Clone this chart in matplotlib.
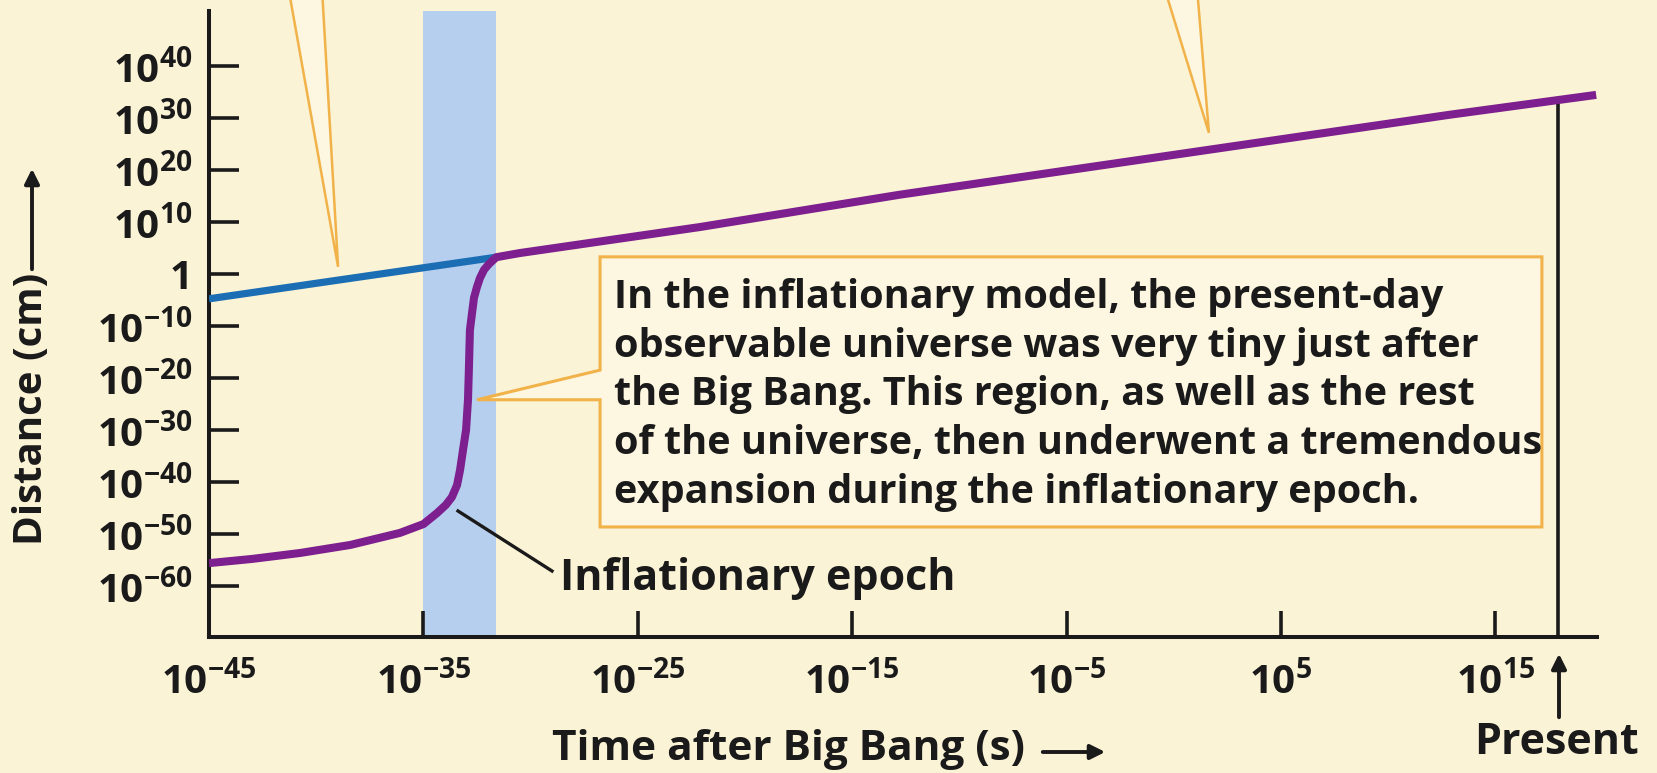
import numpy as np
from matplotlib import pyplot as plt
from matplotlib.patches import Polygon
from matplotlib.ticker import FixedLocator, FuncFormatter, NullLocator

#fonts: bold humanist sans everywhere, also inside the math tick labels
plt.rcParams['font.family'] = ['Open Sans', 'DejaVu Sans']
plt.rcParams['font.weight'] = 'bold'
plt.rcParams['mathtext.fontset'] = 'custom'
plt.rcParams['mathtext.rm'] = 'Open Sans:bold'
plt.rcParams['mathtext.bf'] = 'Open Sans:bold'
plt.rcParams['mathtext.it'] = 'Open Sans:bold'

#========================================
#               Data (log10 values)
#========================================

#standard model (blue), log10 of time [s] and distance [cm]
standard_log_t = [-45.0, -31.6]
standard_log_d = [-4.8, 3.2]

#inflationary model (purple)
inflation_log_t = [-45.0, -43.0, -40.75, -38.4, -36.1, -35.0, -34.37, -33.95, -33.67,
                   -33.43, -33.29, -33.15, -33.01, -32.92, -32.87, -32.83, -32.73,
                   -32.64, -32.5, -32.36, -32.17, -31.94, -31.6, -30.5, -22.1, -12.8,
                   12.9, 19.7]
inflation_log_d = [-55.6, -54.8, -53.65, -52.1, -49.8, -48.1, -46.0, -44.4, -42.9,
                   -40.6, -37.7, -33.8, -30.0, -24.2, -17.1, -10.8, -7.5,
                   -4.6, -2.5, -0.8, 0.8, 1.9, 3.2, 4.0, 9.0, 15.2,
                   30.6, 34.4]

#inflationary epoch band
epoch_log_t = [-35.0, -31.6]

#present day
present_log_t = 17.9
present_log_d = 33.0

x_tick_exps = [-45, -35, -25, -15, -5, 5, 15]
y_tick_exps = [-60, -50, -40, -30, -20, -10, 0, 10, 20, 30, 40]

box_text = ("In the inflationary model, the present-day\n"
            "observable universe was very tiny just after\n"
            "the Big Bang. This region, as well as the rest\n"
            "of the universe, then underwent a tremendous\n"
            "expansion during the inflationary epoch.")

#colours
bg = '#fbf3d6'
box_bg = '#fdf6e0'
band_color = '#b7cfee'
blue = '#1b6db4'
purple = '#7d1f8e'
orange = '#f1b24a'
ink = '#1a1a1a'

#========================================
#               Figure
#========================================

W, H = 1658, 773
fig = plt.figure(figsize=(W / 100, H / 100), dpi=100, facecolor=bg)
ax = fig.add_axes([209 / W, (H - 637) / H, (1597 - 209) / W, (637 - 10.6) / H])
ax.set_facecolor('none')
ax.set_xscale('log')
ax.set_yscale('log')
ax.set_xlim(10 ** -45.0, 10 ** 19.74)
ax.set_ylim(10 ** -69.8, 10 ** 50.6)

ax.axvspan(10 ** epoch_log_t[0], 10 ** epoch_log_t[1], color=band_color, lw=0, zorder=1)

ax.plot(10 ** np.array(standard_log_t), 10 ** np.array(standard_log_d),
        color=blue, lw=5.2, solid_capstyle='butt', zorder=3)
ax.plot(10 ** np.array(inflation_log_t), 10 ** np.array(inflation_log_d),
        color=purple, lw=5.8, solid_capstyle='butt', solid_joinstyle='round', zorder=4)

#line marking the present day
ax.plot([10 ** present_log_t] * 2, [10 ** -69.8, 10 ** present_log_d],
        color=ink, lw=2.6, zorder=3)

#axes style
for s in ['top', 'right']:
    ax.spines[s].set_visible(False)
for s in ['left', 'bottom']:
    ax.spines[s].set_linewidth(2.9)
    ax.spines[s].set_color(ink)

def fmt(v, pos):
    e = int(round(np.log10(v)))
    if e == 0:
        return '1'
    return r'$10^{%d}$' % e

ax.xaxis.set_major_locator(FixedLocator([10.0 ** e for e in x_tick_exps]))
ax.yaxis.set_major_locator(FixedLocator([10.0 ** e for e in y_tick_exps]))
ax.xaxis.set_minor_locator(NullLocator())
ax.yaxis.set_minor_locator(NullLocator())
ax.xaxis.set_major_formatter(FuncFormatter(fmt))
ax.yaxis.set_major_formatter(FuncFormatter(fmt))
ax.tick_params(axis='x', direction='in', length=19, width=2.6, pad=17,
               labelsize=29, color=ink, labelcolor=ink)
ax.tick_params(axis='y', direction='in', length=21.5, width=2.6, pad=12,
               labelsize=29, color=ink, labelcolor=ink)

#========================================
#               Callouts
#========================================

#wedges of the callouts above the plot (their boxes are cut off)
wedges = [
    [(-41.2, 52.7), (-38.98, 1.35), (-39.7, 52.7)],
    [(-0.27, 52.7), (1.64, 27.1), (1.13, 52.7)],
]
for w in wedges:
    pts = [(10 ** a, 10 ** b) for a, b in w]
    ax.add_patch(Polygon(pts, closed=False, facecolor=box_bg, edgecolor=orange,
                         lw=1.8, clip_on=False, zorder=2))

#text box with its pointer to the steep part of the purple curve
box = [(-26.76, 3.27), (17.17, 3.27), (17.17, -48.65), (-26.76, -48.65),
       (-26.76, -24.2), (-32.5, -24.2), (-26.76, -18.5)]
ax.add_patch(Polygon([(10 ** a, 10 ** b) for a, b in box], closed=True,
                     facecolor=box_bg, edgecolor=orange, lw=2.2, zorder=5))
fig.text(614 / W, 1 - 395 / H, box_text, fontsize=28.5, fontweight='bold',
         ha='left', va='center', linespacing=1.32, color=ink, zorder=6)

#inflationary epoch label with leader line
fig.text(560 / W, 1 - 578 / H, 'Inflationary epoch', fontsize=31, fontweight='bold',
         ha='left', va='center', color=ink)
fig.add_artist(plt.Line2D([458 / W, 552 / W], [1 - 511 / H, 1 - 571 / H],
                          color=ink, lw=2.4))

#========================================
#               Axis labels
#========================================

fig.text(32 / W, 1 - 409 / H, 'Distance (cm)', rotation=90, fontsize=29,
         fontweight='bold', ha='center', va='center', color=ink)
ax.annotate('', xy=(32, H - 166), xytext=(32, H - 272), xycoords='figure pixels',
            arrowprops=dict(arrowstyle='-|>', color=ink, lw=2.8, mutation_scale=22))

fig.text(789 / W, 1 - 749 / H, 'Time after Big Bang (s)', fontsize=30.5,
         fontweight='bold', ha='center', va='center', color=ink)
ax.annotate('', xy=(1108, H - 752), xytext=(1040, H - 752), xycoords='figure pixels',
            arrowprops=dict(arrowstyle='-|>', color=ink, lw=2.8, mutation_scale=22))

fig.text(1557 / W, 1 - 742 / H, 'Present', fontsize=31, fontweight='bold',
         ha='center', va='center', color=ink)
ax.annotate('', xy=(1559, H - 651), xytext=(1559, H - 720), xycoords='figure pixels',
            arrowprops=dict(arrowstyle='-|>', color=ink, lw=2.8, mutation_scale=22))

fig.savefig('out.png', dpi=100, facecolor=bg)
